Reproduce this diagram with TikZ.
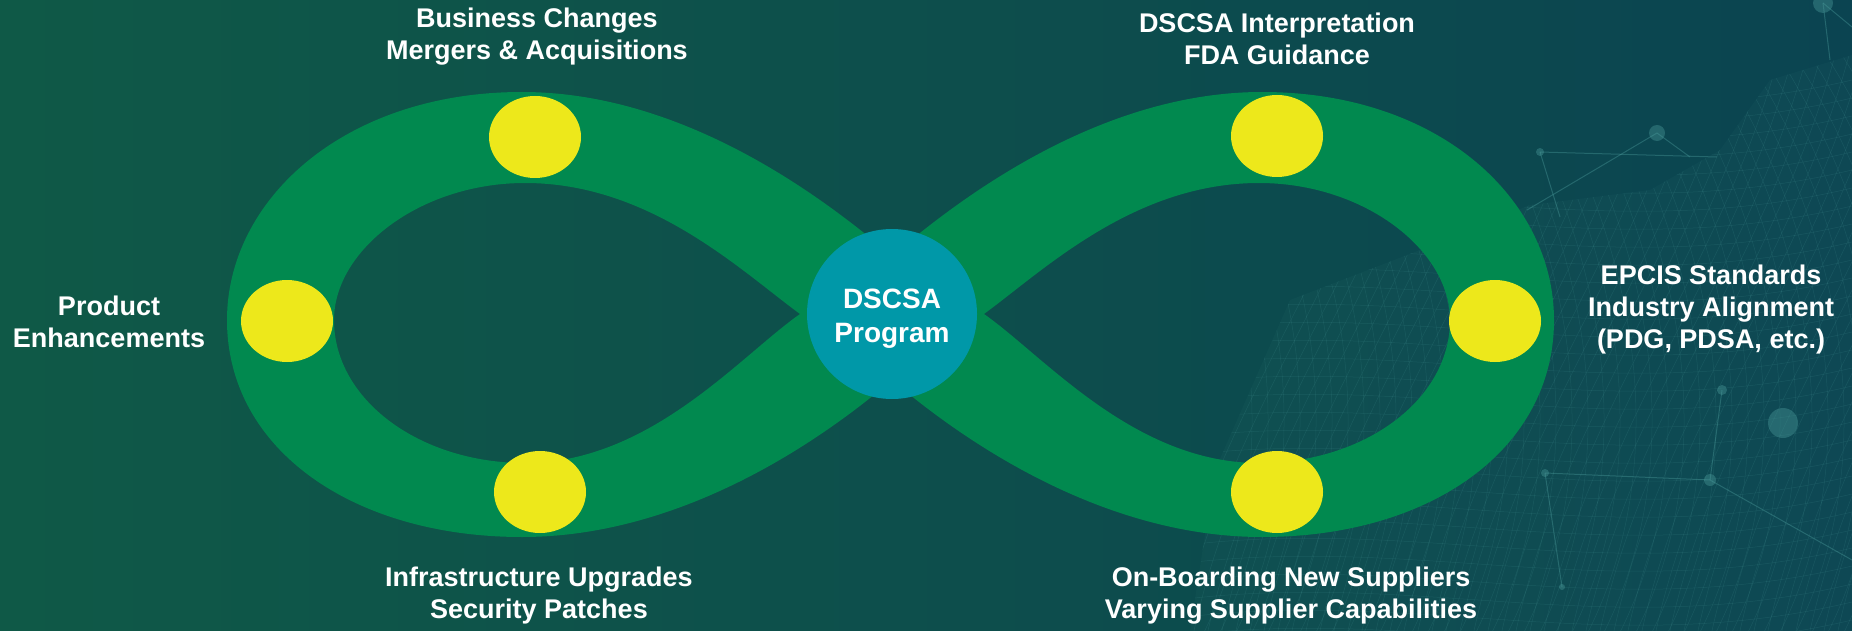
\documentclass[tikz,border=0pt]{standalone}
\usepackage{fontspec}
\setmainfont{Liberation Sans}
\definecolor{bgL}{HTML}{0F5947}
\definecolor{bgR}{HTML}{0B4451}
\definecolor{ringc}{HTML}{01894F}
\definecolor{dotc}{HTML}{EDE81B}
\definecolor{hubc}{HTML}{0098A8}
\definecolor{meshc}{HTML}{4A9A9A}
\tikzset{
  lbl/.style={text=white, font=\fontsize{27}{32}\selectfont\bfseries, align=center, inner sep=0pt, anchor=base},
  meshline/.style={draw=meshc, opacity=0.18, line width=0.5pt},
  netline/.style={draw=meshc, opacity=0.4, line width=1pt},
  netdot/.style={fill=meshc, opacity=0.4},
  dot/.style={fill=dotc}
}
\begin{document}
\begin{tikzpicture}[x=1pt,y=-1pt]
\useasboundingbox (0,0) rectangle (1852,631);
\shade[left color=bgL, right color=bgR] (0,0) rectangle (1852,631);
% mesh texture
\begin{scope}
\clip (1190,631) -- (1215,470) -- (1290,300) -- (1420,250) -- (1530,205) -- (1650,190) -- (1720,150) -- (1770,80) -- (1852,55) -- (1852,631) -- cycle;
\fill[meshc, opacity=0.05] (1100,0) rectangle (1852,631);
\foreach \i in {0,...,50} { \draw[meshline] (1150+\i*14,640) .. controls (1200+\i*14,400) and (1350+\i*14,250) .. (1400+\i*14,0); }
\foreach \i in {0,...,50} { \draw[meshline] (1100+\i*16,0) .. controls (1250+\i*16,200) and (1300+\i*16,450) .. (1200+\i*16,640); }
\foreach \j in {0,...,32} { \draw[meshline] (1150,100+\j*18) .. controls (1400,60+\j*18) and (1600,140+\j*18) .. (1852,80+\j*18); }
\end{scope}
% network lines
\draw[netline] (1540,152) -- (1717,157);
\draw[netline] (1657,133) -- (1527,210);
\draw[netline] (1657,133) -- (1690,157);
\draw[netline] (1540,152) -- (1560,217);
\draw[netline] (1823,3) -- (1830,60);
\draw[netline] (1823,3) -- (1852,27);
\draw[netline] (1545,473) -- (1710,480);
\draw[netline] (1710,480) -- (1722,390);
\draw[netline] (1545,473) -- (1562,587);
\draw[netline] (1710,480) -- (1852,560);
\fill[netdot] (1823,3) circle (10);
\fill[netdot] (1657,133) circle (8);
\fill[netdot] (1540,152) circle (4);
\fill[netdot] (1545,473) circle (4);
\fill[netdot] (1710,480) circle (6);
\fill[netdot] (1783,423) circle (15);
\fill[netdot] (1722,390) circle (5);
\fill[netdot] (1562,587) circle (3);
% infinity ring (outer contour with two holes, even-odd)
\fill[ringc, even odd rule]
  (892,256) .. controls (960,198) and (1100,92) .. (1262,92)
            .. controls (1440,92) and (1554,200) .. (1554,320)
            .. controls (1554,450) and (1430,537) .. (1262,537)
            .. controls (1100,537) and (960,438) .. (892,380)
            .. controls (824,438) and (684,537) .. (522,537)
            .. controls (354,537) and (227,450) .. (227,320)
            .. controls (227,200) and (344,92) .. (522,92)
            .. controls (684,92) and (824,198) .. (892,256) -- cycle
  (800,314) .. controls (740,270) and (650,183) .. (525,183)
            .. controls (420,183) and (334,250) .. (334,320)
            .. controls (334,400) and (420,463) .. (525,463)
            .. controls (650,463) and (740,356) .. (800,314) -- cycle
  (984,314) .. controls (1044,270) and (1134,183) .. (1259,183)
            .. controls (1364,183) and (1450,250) .. (1450,320)
            .. controls (1450,400) and (1364,463) .. (1259,463)
            .. controls (1134,463) and (1044,356) .. (984,314) -- cycle;
% yellow markers
\fill[dot] (535,137) ellipse [x radius=46, y radius=41];
\fill[dot] (287,321) ellipse [x radius=46, y radius=41];
\fill[dot] (540,492) ellipse [x radius=46, y radius=41];
\fill[dot] (1277,136) ellipse [x radius=46, y radius=41];
\fill[dot] (1495,321) ellipse [x radius=46, y radius=41];
\fill[dot] (1277,492) ellipse [x radius=46, y radius=41];
% hub
\node[circle, fill=hubc, minimum size=170pt, inner sep=0pt] (hub) at (892,314) {};
\node[lbl, font=\fontsize{28}{34}\selectfont\bfseries] (hubtxt) at (892,342) {DSCSA\\Program};
% labels
\node[lbl] (bc) at (537,60) {Business Changes\\Mergers \& Acquisitions};
\node[lbl] (dscsa) at (1277,65) {DSCSA Interpretation\\FDA Guidance};
\node[lbl] (prod) at (109,347) {Product\\Enhancements};
\node[lbl] (infra) at (539,618) {Infrastructure Upgrades\\Security Patches};
\node[lbl] (onb) at (1291,618) {On-Boarding New Suppliers\\Varying Supplier Capabilities};
\node[lbl] (epcis) at (1711,348) {EPCIS Standards\\Industry Alignment\\(PDG, PDSA, etc.)};
\end{tikzpicture}
\end{document}
